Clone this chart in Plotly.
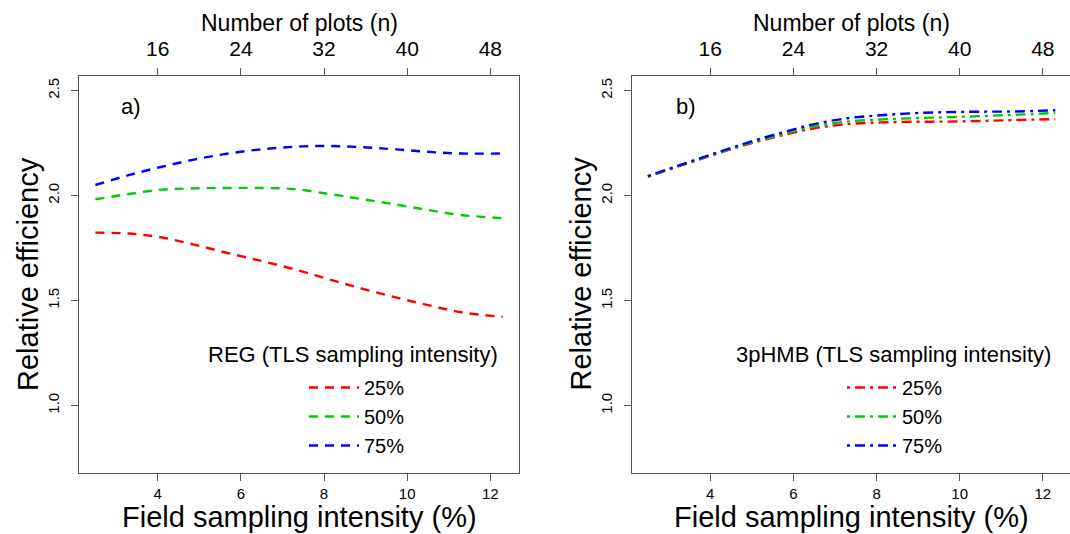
import plotly.graph_objects as go

# ---------------- data ----------------
field_intensity = [2.5, 3.3, 4.1, 4.9, 5.7, 6.5, 7.3, 8.1, 8.9, 9.7, 10.5, 11.3, 12.3]

reg_25 = [1.823, 1.819, 1.800, 1.765, 1.725, 1.688, 1.648, 1.602, 1.557, 1.516, 1.478, 1.444, 1.422]
reg_50 = [1.982, 2.007, 2.028, 2.034, 2.036, 2.036, 2.030, 2.008, 1.983, 1.958, 1.931, 1.907, 1.892]
reg_75 = [2.050, 2.097, 2.137, 2.172, 2.200, 2.220, 2.232, 2.236, 2.230, 2.220, 2.208, 2.200, 2.200]

hmb_25 = [2.090, 2.143, 2.195, 2.244, 2.285, 2.320, 2.340, 2.348, 2.351, 2.352, 2.355, 2.359, 2.364]
hmb_50 = [2.090, 2.145, 2.197, 2.247, 2.290, 2.330, 2.352, 2.362, 2.368, 2.373, 2.378, 2.384, 2.393]
hmb_75 = [2.092, 2.147, 2.200, 2.252, 2.298, 2.340, 2.368, 2.382, 2.392, 2.397, 2.399, 2.400, 2.406]

tls_labels = ["25%", "50%", "75%"]
colors = ["#FF0000", "#00CD00", "#0000FF"]

bottom_ticks = [4, 6, 8, 10, 12]
top_tick_labels = ["16", "24", "32", "40", "48"]
y_ticks = [1.0, 1.5, 2.0, 2.5]
y_tick_labels = ["1.0", "1.5", "2.0", "2.5"]

# ---------------- layout helpers ----------------
W, H = 1070, 534
FONT = "Liberation Sans, Arial, Helvetica, sans-serif"
AXC = "#555555"

def px(x):
    return x / W

def py(y):
    return 1 - y / H

xa_dom = [px(79.2), px(519)]
xb_dom = [px(631.7), 1.0]
y_dom = [py(472.7), py(75.8)]
x_range_a = [2.11, 12.69]
x_range_b = [2.11, 2.11 + (1070 - 631.7) / 41.57]
y_range = [0.68, 2.57]

fig = go.Figure()

dash_a = "9px,7px"
dash_b = "3px,5px,10px,5px"

for vals, lab, col in zip([reg_25, reg_50, reg_75], tls_labels, colors):
    fig.add_trace(go.Scatter(x=field_intensity, y=vals, mode="lines", name=lab,
                             line=dict(color=col, width=2.4, dash=dash_a, shape="spline"),
                             xaxis="x", yaxis="y", legend="legend"))
for vals, lab, col in zip([hmb_25, hmb_50, hmb_75], tls_labels, colors):
    fig.add_trace(go.Scatter(x=field_intensity, y=vals, mode="lines", name=lab,
                             line=dict(color=col, width=2.4, dash=dash_b, shape="spline"),
                             xaxis="x2", yaxis="y2", legend="legend2"))

# dummy traces so the top axes are drawn
fig.add_trace(go.Scatter(x=[field_intensity[0]], y=[None], xaxis="x3", yaxis="y",
                         showlegend=False, hoverinfo="skip"))
fig.add_trace(go.Scatter(x=[field_intensity[0]], y=[None], xaxis="x4", yaxis="y2",
                         showlegend=False, hoverinfo="skip"))

common_x = dict(showgrid=False, zeroline=False, showline=True, linecolor=AXC, linewidth=1.2,
                ticks="outside", ticklen=7, tickcolor=AXC, tickwidth=1.2,
                tickvals=bottom_ticks, tickfont=dict(size=15, color="black", family=FONT))
common_top = dict(showgrid=False, zeroline=False, showline=True, linecolor=AXC, linewidth=1.2,
                  ticks="outside", ticklen=7, tickcolor=AXC, tickwidth=1.2, side="top",
                  tickvals=bottom_ticks, ticktext=top_tick_labels, ticklabelstandoff=3,
                  tickfont=dict(size=21, color="black", family=FONT))
common_y = dict(showgrid=False, zeroline=False, showline=True, linecolor=AXC, linewidth=1.2,
                ticks="outside", ticklen=7, tickcolor=AXC, tickwidth=1.2,
                tickvals=y_ticks, ticktext=y_tick_labels, tickangle=-90, range=y_range,
                ticklabelstandoff=6,
                domain=y_dom, tickfont=dict(size=15, color="black", family=FONT))

legend_common = dict(bgcolor="rgba(0,0,0,0)", borderwidth=0, itemwidth=50,
                     font=dict(size=20, color="black", family=FONT),
                     xanchor="left", yanchor="top", tracegroupgap=0)

fig.update_layout(
    width=W, height=H,
    margin=dict(l=0, r=0, t=0, b=0),
    paper_bgcolor="white", plot_bgcolor="white",
    font=dict(family=FONT, color="black"),
    xaxis=dict(domain=xa_dom, range=x_range_a, anchor="y", **common_x),
    xaxis3=dict(domain=xa_dom, range=x_range_a, anchor="y", overlaying="x", **common_top),
    yaxis=dict(anchor="x", mirror=True, **common_y),
    xaxis2=dict(domain=xb_dom, range=x_range_b, anchor="y2", **common_x),
    xaxis4=dict(domain=xb_dom, range=x_range_b, anchor="y2", overlaying="x2", **common_top),
    yaxis2=dict(anchor="x2", **common_y),
    legend=dict(x=px(304), y=py(368), **legend_common),
    legend2=dict(x=px(842), y=py(368), **legend_common),
    showlegend=True,
)

def ann(text, x, y, size, angle=0, xanchor="center"):
    fig.add_annotation(text=text, x=px(x), y=py(y), xref="paper", yref="paper",
                       showarrow=False, textangle=angle, xanchor=xanchor, yanchor="middle",
                       font=dict(size=size, color="black", family=FONT))

for off, tag in [(0, "a)"), (552.5, "b)")]:
    ann("Number of plots (n)", 299 + off, 23, 23)
    ann("Field sampling intensity (%)", 299 + off, 517, 29)
    ann("Relative efficiency", 28 + off, 274, 29, angle=-90)
    ann(tag, 131 + off + (2 if off else 0), 106, 22)
ann("REG (TLS sampling intensity)", 352.5, 354, 22)
ann("3pHMB (TLS sampling intensity)", 893, 354, 22)

fig.write_html("out.html", config={"displayModeBar": False},
               post_script="document.body.style.margin='0';document.body.style.overflow='hidden';")
